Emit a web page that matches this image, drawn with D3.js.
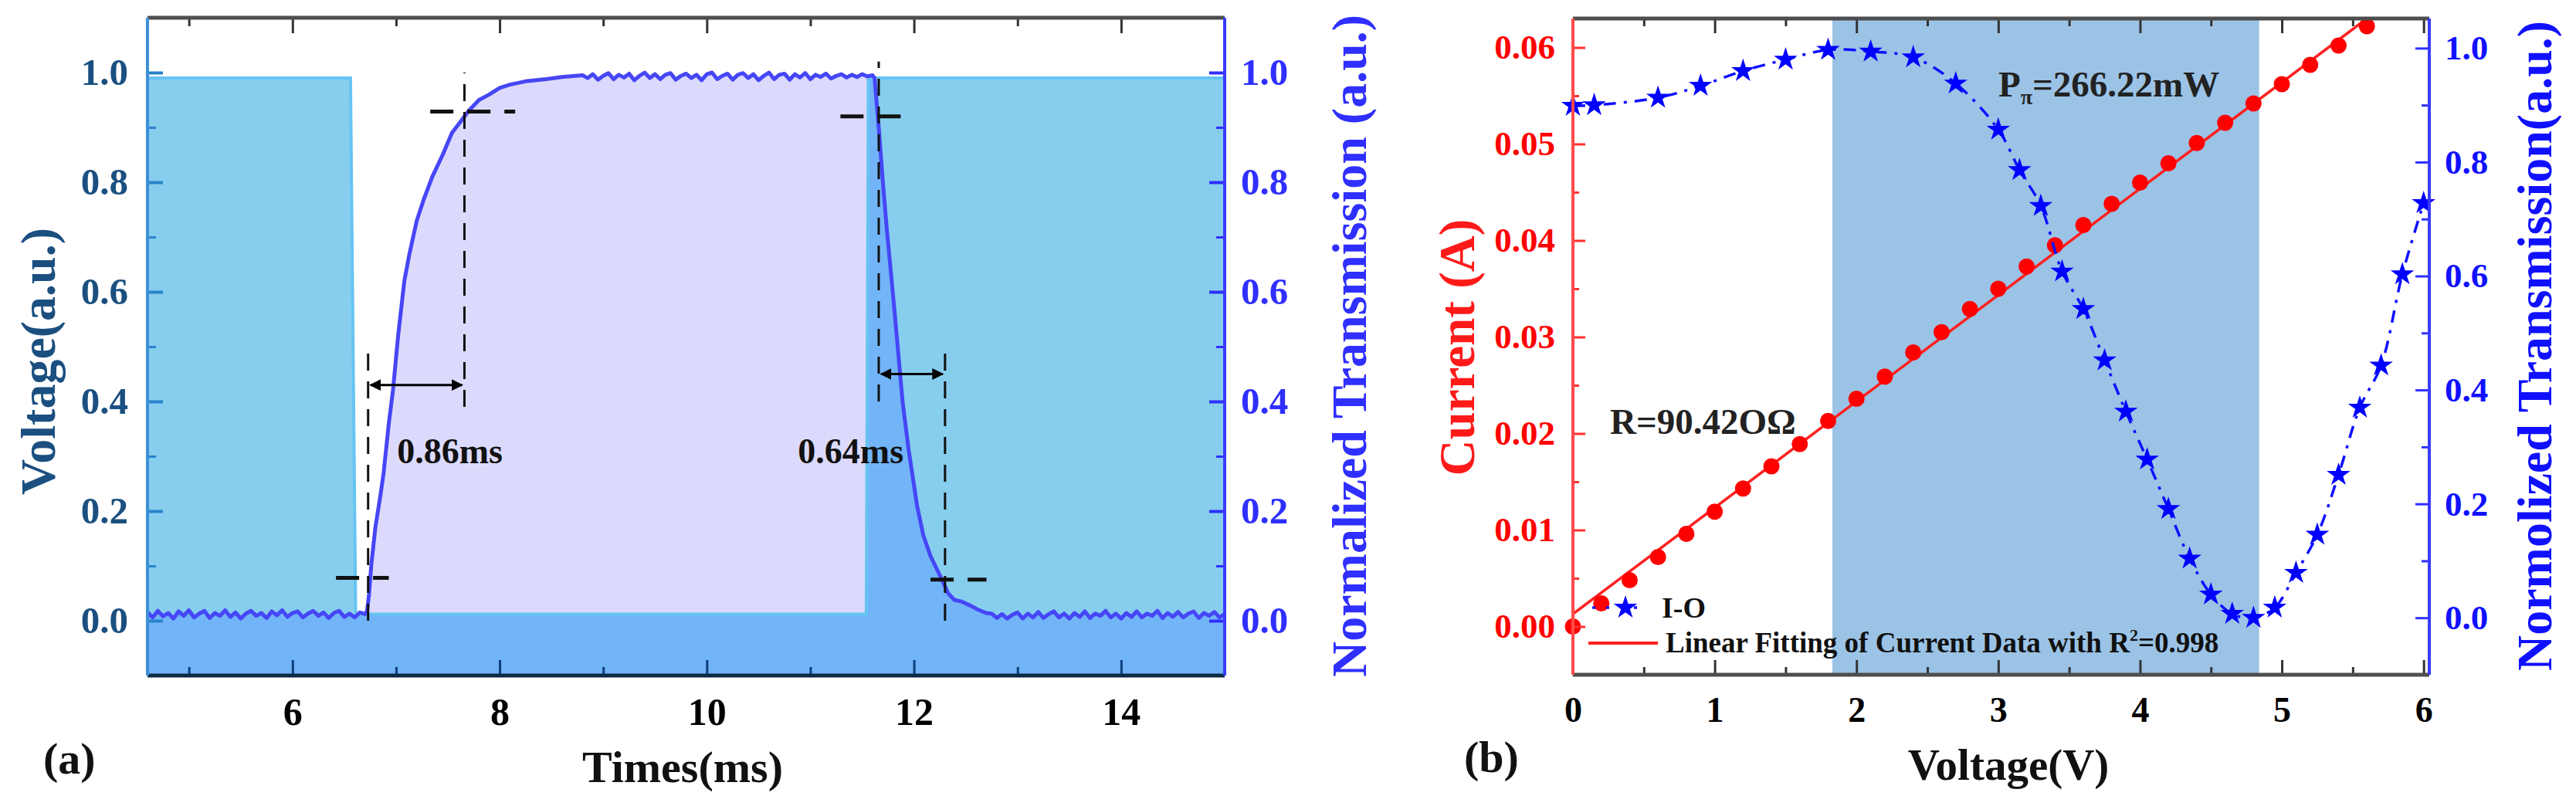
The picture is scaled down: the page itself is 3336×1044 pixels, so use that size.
<!DOCTYPE html>
<html>
<head>
<meta charset="utf-8">
<script src="https://cdn.jsdelivr.net/npm/d3@7"></script>
<style>
body { margin: 0; background: #fff; }
text { font-family: "Liberation Serif", "Times New Roman", serif; font-weight: bold; }
</style>
</head>
<body>
<div id="chart"></div>
<script>
// ---------- panel (a): response time ----------
var timeDomain = [4.6, 15];
var levelDomain = [-0.1, 1.1];
var timeMajor = [6, 8, 10, 12, 14];
var timeMinor = [5, 7, 9, 11, 13];
var levelMajor = [0, 0.2, 0.4, 0.6, 0.8, 1.0];
var levelMinor = [0.1, 0.3, 0.5, 0.7, 0.9];

// driving voltage (square wave), [time ms, level]
var voltageTrace = [[4.6, 0.99], [6.56, 0.99], [6.61, 0.012], [11.54, 0.012], [11.56, 0.99], [15.0, 0.99]];

// normalized optical transmission, [time ms, level]
var transTrace = [
  [4.60,.016],[4.65,.006],[4.70,.018],[4.75,.008],[4.80,.014],[4.85,.004],[4.90,.017],[4.95,.009],
  [5.00,.019],[5.05,.006],[5.10,.013],[5.15,.018],[5.20,.005],[5.25,.014],[5.30,.009],[5.35,.019],
  [5.40,.007],[5.45,.015],[5.50,.004],[5.55,.013],[5.60,.018],[5.65,.009],[5.70,.014],[5.75,.005],
  [5.80,.017],[5.85,.010],[5.90,.019],[5.95,.007],[6.00,.014],[6.05,.017],[6.10,.006],[6.15,.013],
  [6.20,.018],[6.25,.009],[6.30,.015],[6.35,.005],[6.40,.014],[6.45,.018],[6.50,.007],[6.55,.013],
  [6.60,.006],[6.65,.015],[6.70,.012],
  // rise
  [6.72,.018],[6.74,.05],[6.76,.10],[6.80,.17],[6.85,.23],[6.88,.27],[6.93,.36],[6.97,.42],
  [7.02,.52],[7.08,.62],[7.13,.67],[7.20,.73],[7.27,.77],[7.35,.81],[7.45,.85],[7.54,.89],
  [7.62,.91],[7.70,.93],[7.80,.95],[7.90,.96],[8.00,.972],[8.10,.978],[8.25,.984],[8.45,.988],
  [8.60,.992],[8.80,.995],
  // high plateau
  [8.85,.990],[8.90,.997],[8.95,.987],[9.00,.994],[9.05,.999],[9.10,.988],[9.15,.996],[9.20,.991],
  [9.25,.998],[9.30,.986],[9.35,.994],[9.40,1.0],[9.45,.990],[9.50,.997],[9.55,.988],[9.60,.996],
  [9.65,.999],[9.70,.987],[9.75,.994],[9.80,.998],[9.85,.990],[9.90,.996],[9.95,.986],[10.00,.997],
  [10.05,1.0],[10.10,.988],[10.15,.994],[10.20,.998],[10.25,.987],[10.30,.996],[10.35,.999],[10.40,.990],
  [10.45,.997],[10.50,.986],[10.55,.994],[10.60,1.0],[10.65,.988],[10.70,.996],[10.75,.998],[10.80,.987],
  [10.85,.997],[10.90,.991],[10.95,.999],[11.00,.988],[11.05,.996],[11.10,.992],[11.15,.998],[11.20,.989],
  [11.25,.994],[11.30,.997],[11.35,.991],[11.40,.996],[11.45,.992],[11.50,.997],[11.55,.993],[11.60,.995],
  // fall
  [11.62,.99],[11.66,.90],[11.70,.80],[11.74,.71],[11.81,.57],[11.89,.40],[11.95,.31],[12.03,.21],
  [12.09,.156],[12.16,.118],[12.27,.075],[12.33,.05],[12.39,.038],[12.46,.035],[12.54,.028],[12.62,.02],
  [12.70,.014],
  // low level
  [12.75,.013],[12.80,.005],[12.85,.012],[12.90,.004],[12.95,.011],[13.00,.015],[13.05,.004],[13.10,.013],
  [13.15,.006],[13.20,.016],[13.25,.005],[13.30,.012],[13.35,.017],[13.40,.006],[13.45,.013],[13.50,.004],
  [13.55,.014],[13.60,.007],[13.65,.017],[13.70,.005],[13.75,.013],[13.80,.009],[13.85,.018],[13.90,.006],
  [13.95,.013],[14.00,.004],[14.05,.014],[14.10,.007],[14.15,.017],[14.20,.006],[14.25,.013],[14.30,.009],
  [14.35,.018],[14.40,.005],[14.45,.014],[14.50,.007],[14.55,.016],[14.60,.006],[14.65,.013],[14.70,.017],
  [14.75,.005],[14.80,.014],[14.85,.009],[14.90,.016],[14.95,.006],[15.00,.012]
];

// 10% / 90% guide lines: [t1, v1, t2, v2]
var guideVertical = [[6.73, 0.0, 6.73, 0.50], [7.66, 0.39, 7.66, 1.0], [11.66, 0.40, 11.66, 1.02], [12.30, 0.0, 12.30, 0.50]];
var guideHorizontal = [[6.42, 0.078, 6.93, 0.078], [7.33, 0.929, 8.15, 0.929], [11.29, 0.92, 11.88, 0.92], [12.16, 0.075, 12.70, 0.075]];
// double arrows: [t1, t2, level]
var spanArrows = [[6.73, 7.66, 0.43], [11.66, 12.30, 0.45]];
var spanLabels = ["0.86ms", "0.64ms"];
var spanLabelPos = [[7.01, 0.287], [10.88, 0.287]];

// ---------- panel (b): I-V and transmission ----------
var voltDomain = [0, 6.04];
var currentDomain = [-0.005, 0.063];
var normDomain = [-0.1, 1.052];
var voltMajor = [0, 1, 2, 3, 4, 5, 6];
var voltMinor = [0.5, 1.5, 2.5, 3.5, 4.5, 5.5];
var currentMajor = [0, 0.01, 0.02, 0.03, 0.04, 0.05, 0.06];
var currentMinor = [0.005, 0.015, 0.025, 0.035, 0.045, 0.055];
var normMajor = [0, 0.2, 0.4, 0.6, 0.8, 1.0];
var normMinor = [0.1, 0.3, 0.5, 0.7, 0.9];

var ivVoltage = [0, 0.2, 0.4, 0.6, 0.8, 1.0, 1.2, 1.4, 1.6, 1.8, 2.0, 2.2, 2.4, 2.6, 2.8,
                 3.0, 3.2, 3.4, 3.6, 3.8, 4.0, 4.2, 4.4, 4.6, 4.8, 5.0, 5.2, 5.4, 5.6];
var ivCurrent = [0.0000, 0.0024, 0.0048, 0.0072, 0.0096, 0.0119, 0.0143, 0.0166, 0.0189, 0.0213,
                 0.0236, 0.0259, 0.0284, 0.0305, 0.0329, 0.0350, 0.0373, 0.0395, 0.0416, 0.0438,
                 0.0460, 0.0480, 0.0501, 0.0522, 0.0542, 0.0562, 0.0582, 0.0602, 0.0622];
var fitLine = [[0, 0.0013], [5.8, 0.0652]];

var ioVoltage = [0, 0.15, 0.6, 0.9, 1.2, 1.5, 1.8, 2.1, 2.4, 2.7, 3.0, 3.15, 3.3, 3.45, 3.6, 3.75,
                 3.9, 4.05, 4.2, 4.35, 4.5, 4.65, 4.8, 4.95, 5.1, 5.25, 5.4, 5.55, 5.7, 5.85, 6.0];
var ioTrans = [0.899, 0.900, 0.913, 0.934, 0.960, 0.980, 0.997, 0.994, 0.984, 0.938, 0.857, 0.786,
               0.723, 0.608, 0.542, 0.452, 0.362, 0.278, 0.191, 0.104, 0.041, 0.007, 0.0, 0.018,
               0.079, 0.146, 0.251, 0.369, 0.443, 0.603, 0.728];
var piBand = [1.83, 4.84];

// ---------------------------------------------------------------------
var W = 3336, H = 1044;
var svg = d3.select("#chart").append("svg").attr("width", W).attr("height", H);
var FONT = "'Liberation Serif', 'Times New Roman', serif";

var defs = svg.append("defs");
defs.append("marker").attr("id", "head").attr("viewBox", "0 0 10 10")
    .attr("refX", 9).attr("refY", 5).attr("markerWidth", 5).attr("markerHeight", 5)
    .attr("orient", "auto-start-reverse")
  .append("path").attr("d", "M0,0 L10,5 L0,10 z").attr("fill", "#000");

// draws one side's ticks (and optionally labels) with d3 axis
function sideAxis(g, maker, scale, vals, len, color, lw, fmt, pad, fsize, lcolor){
  var ax = maker(scale).tickValues(vals).tickSizeInner(-len).tickSizeOuter(0)
      .tickPadding(pad || 0).tickFormat(fmt || "");
  g.call(ax);
  g.select(".domain").remove();
  g.attr("font-family", FONT).attr("font-size", fsize || 10).attr("font-weight", "bold");
  g.selectAll(".tick line").attr("stroke", color).attr("stroke-width", lw);
  g.selectAll(".tick text").attr("fill", lcolor || color);
}

function vTitle(x, y, txt, size, color){
  svg.append("text").attr("transform", "translate(" + x + "," + y + ") rotate(-90)")
    .attr("text-anchor", "middle").attr("font-size", size).attr("fill", color).text(txt);
}

// ================= panel (a) =================
var A = {l: 191, r: 1586, t: 23, b: 875};
var xA = d3.scaleLinear().domain(timeDomain).range([A.l, A.r]);
var yA = d3.scaleLinear().domain(levelDomain).range([A.b, A.t]);

defs.append("clipPath").attr("id", "clipA").append("rect")
  .attr("x", A.l).attr("y", A.t).attr("width", A.r - A.l).attr("height", A.b - A.t);

var areaA = d3.area().x(function(d){ return xA(d[0]); })
  .y0(yA(levelDomain[0])).y1(function(d){ return yA(d[1]); });
var lineA = d3.line().x(function(d){ return xA(d[0]); }).y(function(d){ return yA(d[1]); });

defs.append("clipPath").attr("id", "voltClip").append("path").attr("d", areaA(voltageTrace));

var pa = svg.append("g").attr("clip-path", "url(#clipA)");
pa.append("path").attr("d", areaA(transTrace)).attr("fill", "#dcdafc");
pa.append("path").attr("d", areaA(voltageTrace)).attr("fill", "#87ceee");
pa.append("g").attr("clip-path", "url(#voltClip)")
  .append("path").attr("d", areaA(transTrace)).attr("fill", "#72b4f8");
pa.append("path").attr("d", lineA(voltageTrace)).attr("fill", "none")
  .attr("stroke", "#66c4f2").attr("stroke-width", 4);
pa.append("path").attr("d", lineA(transTrace)).attr("fill", "none")
  .attr("stroke", "#4646f6").attr("stroke-width", 5).attr("stroke-linejoin", "round");

// guides
pa.selectAll(".gv").data(guideVertical).enter().append("line")
  .attr("x1", function(d){ return xA(d[0]); }).attr("y1", function(d){ return yA(d[1]); })
  .attr("x2", function(d){ return xA(d[2]); }).attr("y2", function(d){ return yA(d[3]); })
  .attr("stroke", "#111").attr("stroke-width", 3).attr("stroke-dasharray", "22 14");
pa.selectAll(".gh").data(guideHorizontal).enter().append("line")
  .attr("x1", function(d){ return xA(d[0]); }).attr("y1", function(d){ return yA(d[1]); })
  .attr("x2", function(d){ return xA(d[2]); }).attr("y2", function(d){ return yA(d[3]); })
  .attr("stroke", "#111").attr("stroke-width", 5).attr("stroke-dasharray", "30 18");
pa.selectAll(".arr").data(spanArrows).enter().append("line")
  .attr("x1", function(d){ return xA(d[0]) + 3; }).attr("x2", function(d){ return xA(d[1]) - 3; })
  .attr("y1", function(d){ return yA(d[2]); }).attr("y2", function(d){ return yA(d[2]); })
  .attr("stroke", "#000").attr("stroke-width", 3)
  .attr("marker-start", "url(#head)").attr("marker-end", "url(#head)");
pa.selectAll(".lbl").data(spanLabels).enter().append("text")
  .attr("x", function(d, i){ return xA(spanLabelPos[i][0]); })
  .attr("y", function(d, i){ return yA(spanLabelPos[i][1]); })
  .attr("font-size", 46).attr("fill", "#111").text(String);

// axes of (a)
sideAxis(svg.append("g").attr("transform", "translate(0," + A.t + ")"), d3.axisTop, xA, timeMajor, 20, "#333", 3);
sideAxis(svg.append("g").attr("transform", "translate(0," + A.t + ")"), d3.axisTop, xA, timeMinor, 11, "#333", 3);
sideAxis(svg.append("g").attr("transform", "translate(0," + A.b + ")"), d3.axisBottom, xA, timeMinor, 11, "#0d3f7a", 3);
sideAxis(svg.append("g").attr("transform", "translate(0," + A.b + ")"), d3.axisBottom, xA, timeMajor, 20,
  "#0d3f7a", 3, d3.format("d"), 28, 50, "#000");
sideAxis(svg.append("g").attr("transform", "translate(" + A.l + ",0)"), d3.axisLeft, yA, levelMinor, 11, "#2a82cc", 3);
sideAxis(svg.append("g").attr("transform", "translate(" + A.l + ",0)"), d3.axisLeft, yA, levelMajor, 20,
  "#2a82cc", 4, d3.format(".1f"), 25, 49, "#1b4f80");
sideAxis(svg.append("g").attr("transform", "translate(" + A.r + ",0)"), d3.axisRight, yA, levelMinor, 11, "#2f2fff", 3);
sideAxis(svg.append("g").attr("transform", "translate(" + A.r + ",0)"), d3.axisRight, yA, levelMajor, 20,
  "#2f2fff", 4, d3.format(".1f"), 21, 49, "#2f2fff");

svg.append("line").attr("x1", A.l).attr("x2", A.r).attr("y1", A.t).attr("y2", A.t).attr("stroke", "#4d4d4d").attr("stroke-width", 5);
svg.append("line").attr("x1", A.l).attr("x2", A.r).attr("y1", A.b).attr("y2", A.b).attr("stroke", "#0b2a45").attr("stroke-width", 5);
svg.append("line").attr("x1", A.l).attr("x2", A.l).attr("y1", A.t).attr("y2", A.b).attr("stroke", "#3d8fd8").attr("stroke-width", 4);
svg.append("line").attr("x1", A.r).attr("x2", A.r).attr("y1", A.t).attr("y2", A.b).attr("stroke", "#3a3aff").attr("stroke-width", 4);

vTitle(71, 468, "Voltage(a.u.)", 64, "#1b4f80");
vTitle(1769, 448, "Normalized Transmission (a.u.)", 64, "#2f2fff");
svg.append("text").attr("x", 884).attr("y", 1013).attr("text-anchor", "middle")
  .attr("font-size", 58).attr("fill", "#111").text("Times(ms)");
svg.append("text").attr("x", 56).attr("y", 1002).attr("font-size", 58).attr("fill", "#111").text("(a)");

// ================= panel (b) =================
var B = {l: 2037, r: 3146, t: 24, b: 874};
var xB = d3.scaleLinear().domain(voltDomain).range([B.l, B.r]);
var yI = d3.scaleLinear().domain(currentDomain).range([B.b, B.t]);
var yT = d3.scaleLinear().domain(normDomain).range([B.b, B.t]);

defs.append("clipPath").attr("id", "clipB").append("rect")
  .attr("x", B.l).attr("y", B.t).attr("width", B.r - B.l).attr("height", B.b - B.t);

var pb = svg.append("g");
pb.append("rect").attr("x", xB(piBand[0])).attr("y", B.t)
  .attr("width", xB(piBand[1]) - xB(piBand[0])).attr("height", B.b - B.t).attr("fill", "#9bc3e6");

pb.append("path").attr("clip-path", "url(#clipB)")
  .attr("d", d3.line().x(function(d){ return xB(d[0]); }).y(function(d){ return yI(d[1]); })(fitLine))
  .attr("fill", "none").attr("stroke", "#ff2020").attr("stroke-width", 3.5);
pb.selectAll(".iv").data(ivVoltage).enter().append("circle")
  .attr("cx", function(d){ return xB(d); }).attr("cy", function(d, i){ return yI(ivCurrent[i]); })
  .attr("r", 10.5).attr("fill", "#ff0000");

var ioPts = ioVoltage.map(function(v, i){ return [v, ioTrans[i]]; });
pb.append("path")
  .attr("d", d3.line().curve(d3.curveCatmullRom.alpha(0.5))
    .x(function(d){ return xB(d[0]); }).y(function(d){ return yT(d[1]); })(ioPts))
  .attr("fill", "none").attr("stroke", "#1010ff").attr("stroke-width", 3.5)
  .attr("stroke-dasharray", "16 10 4 10");
var star = d3.symbol().type(d3.symbolStar).size(290);
pb.selectAll(".io").data(ioPts).enter().append("path")
  .attr("d", star).attr("transform", function(d){ return "translate(" + xB(d[0]) + "," + yT(d[1]) + ")"; })
  .attr("fill", "#0000ff");

// annotations
pb.append("text").attr("x", 2085).attr("y", 562).attr("font-size", 47).attr("fill", "#222").text("R=90.42OΩ");
var pt = pb.append("text").attr("x", 2588).attr("y", 125).attr("font-size", 47).attr("fill", "#222");
pt.append("tspan").text("P");
pt.append("tspan").attr("font-size", 28).attr("dy", 10).text("π");
pt.append("tspan").attr("dy", -10).text("=266.22mW");

// legend
pb.append("line").attr("x1", 2062).attr("x2", 2132).attr("y1", 787).attr("y2", 787)
  .attr("stroke", "#1010ff").attr("stroke-width", 3.5).attr("stroke-dasharray", "4 14 4 14");
pb.append("path").attr("d", star).attr("transform", "translate(2105,787)").attr("fill", "#0000ff");
pb.append("text").attr("x", 2152).attr("y", 800).attr("font-size", 38).attr("fill", "#111").text("I-O");
pb.append("line").attr("x1", 2057).attr("x2", 2147).attr("y1", 833).attr("y2", 833)
  .attr("stroke", "#ff2020").attr("stroke-width", 4);
var lt = pb.append("text").attr("x", 2157).attr("y", 845).attr("font-size", 37).attr("fill", "#111");
lt.append("tspan").text("Linear Fitting of Current Data with R");
lt.append("tspan").attr("font-size", 22).attr("dy", -15).text("2");
lt.append("tspan").attr("dy", 15).text("=0.998");

// axes of (b)
sideAxis(svg.append("g").attr("transform", "translate(0," + B.t + ")"), d3.axisTop, xB, voltMajor, 19, "#333", 3);
sideAxis(svg.append("g").attr("transform", "translate(0," + B.t + ")"), d3.axisTop, xB, voltMinor, 10, "#333", 3);
sideAxis(svg.append("g").attr("transform", "translate(0," + B.b + ")"), d3.axisBottom, xB, voltMinor, 10, "#333", 3);
sideAxis(svg.append("g").attr("transform", "translate(0," + B.b + ")"), d3.axisBottom, xB, voltMajor, 19,
  "#333", 3, d3.format("d"), 28, 46, "#000");
sideAxis(svg.append("g").attr("transform", "translate(" + B.l + ",0)"), d3.axisLeft, yI, currentMinor, 8, "#ff3030", 3);
sideAxis(svg.append("g").attr("transform", "translate(" + B.l + ",0)"), d3.axisLeft, yI, currentMajor, 16,
  "#ff3030", 3, d3.format(".2f"), 23, 45, "#ff0000");
sideAxis(svg.append("g").attr("transform", "translate(" + B.r + ",0)"), d3.axisRight, yT, normMinor, 10, "#2f2fff", 3);
sideAxis(svg.append("g").attr("transform", "translate(" + B.r + ",0)"), d3.axisRight, yT, normMajor, 18,
  "#2f2fff", 3, d3.format(".1f"), 20, 45, "#1010ff");

svg.append("line").attr("x1", B.l).attr("x2", B.r).attr("y1", B.t).attr("y2", B.t).attr("stroke", "#4d4d4d").attr("stroke-width", 5);
svg.append("line").attr("x1", B.l).attr("x2", B.r).attr("y1", B.b).attr("y2", B.b).attr("stroke", "#4d4d4d").attr("stroke-width", 5);
svg.append("line").attr("x1", B.l).attr("x2", B.l).attr("y1", B.t).attr("y2", B.b).attr("stroke", "#ff4a4a").attr("stroke-width", 4);
svg.append("line").attr("x1", B.r).attr("x2", B.r).attr("y1", B.t).attr("y2", B.b).attr("stroke", "#3a3aff").attr("stroke-width", 4);

vTitle(1909, 450, "Current (A)", 65, "#ff1a1a");
vTitle(3304, 448, "Normolized Transmission(a.u.)", 64, "#1010ff");
svg.append("text").attr("x", 2601).attr("y", 1010).attr("text-anchor", "middle")
  .attr("font-size", 57).attr("fill", "#111").text("Voltage(V)");
svg.append("text").attr("x", 1896).attr("y", 1000).attr("font-size", 58).attr("fill", "#111").text("(b)");
</script>
</body>
</html>
